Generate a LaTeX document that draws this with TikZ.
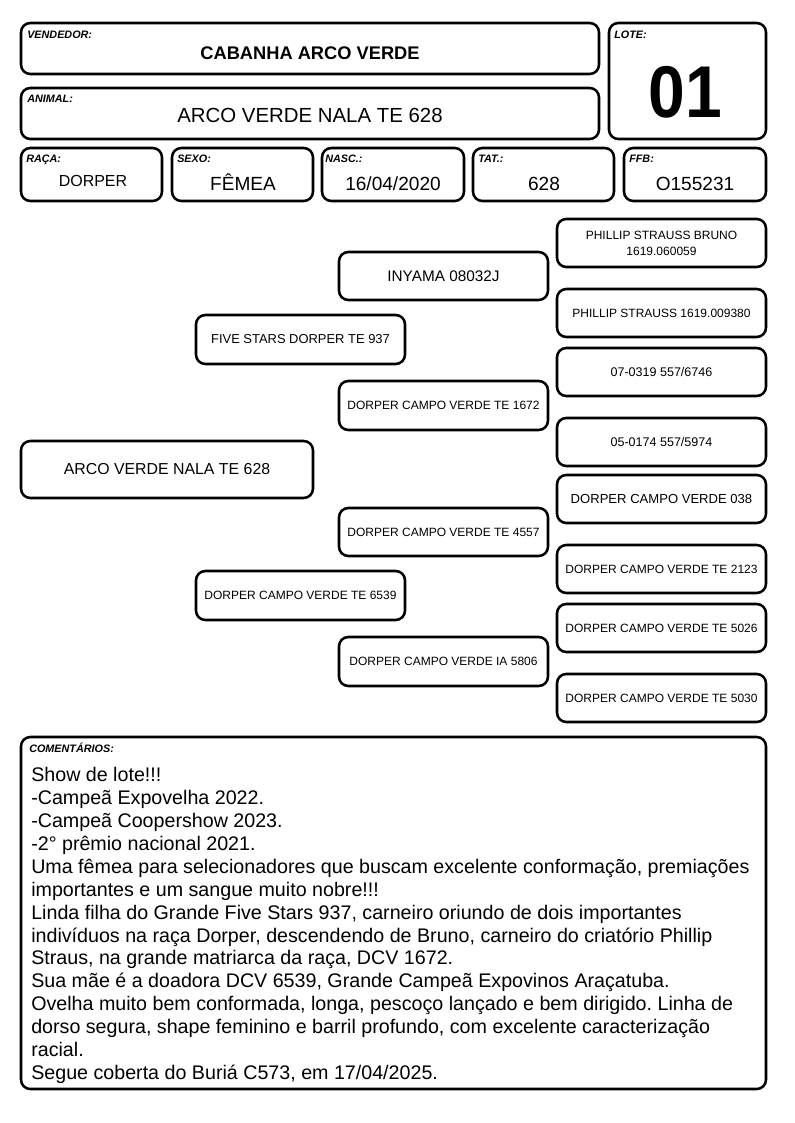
\documentclass[tikz,border=0pt]{standalone}
\usepackage{fontspec}
\setmainfont{Liberation Sans}
\frenchspacing
\newcommand\mybox[7][]{\node[box,#1,minimum width={(#5-#3)*0.75pt},minimum height={(#6-#4)*0.75pt}] (#2) at ({(#3+#5)/2},{(#4+#6)/2}) {#7};}
\begin{document}
\begin{tikzpicture}[x=0.75pt,y=-0.75pt,
 box/.style={draw, line width=1.9pt, rounded corners=7pt, inner sep=0pt, align=center},
 lbl/.style={anchor=base west, inner sep=0pt, font=\fontsize{8.1}{9}\selectfont\bfseries\itshape},
 val/.style={anchor=base, inner sep=0pt, font=\fontsize{14.3}{16}\selectfont},
 ped/.style={font=\fontsize{9}{12}\selectfont}]
\useasboundingbox[fill=white] (0,0) rectangle (794,1123);
% header
\mybox{vend}{21}{23}{599}{74}{}
\mybox{lote}{609}{23}{766}{139}{}
\mybox{anim}{21}{88}{599}{139}{}
\mybox{raca}{21}{148}{162}{201}{}
\mybox{sexo}{172}{148}{313}{201}{}
\mybox{nasc}{322}{148}{464}{201}{}
\mybox{tat}{473}{148}{614}{201}{}
\mybox{ffb}{624}{148}{766}{201}{}
\node[lbl] (lvend) at (27,39) {VENDEDOR:};
\node[lbl] (llote) at (614,39) {LOTE:};
\node[lbl] (lanim) at (27,103) {ANIMAL:};
\node[lbl] (lraca) at (26,163) {RAÇA:};
\node[lbl] (lsexo) at (177,163) {SEXO:};
\node[lbl] (lnasc) at (325,163) {NASC.:};
\node[lbl] (ltat) at (478,163) {TAT.:};
\node[lbl] (lffb) at (629,163) {FFB:};
\node[val, font=\fontsize{13.7}{16}\selectfont\bfseries] (tvend) at (310,60) {CABANHA ARCO VERDE};
\node[val, font=\fontsize{15.3}{18}\selectfont] (tanim) at (310,123) {ARCO VERDE NALA TE 628};
\node[val, font=\fontsize{55}{57}\selectfont\bfseries, xscale=0.9] (tlote) at (685,118) {01};
\node[val, font=\fontsize{12}{14}\selectfont] (traca) at (93,187) {DORPER};
\node[val] (tsexo) at (243,191) {FÊMEA};
\node[val] (tnasc) at (393,191) {16/04/2020};
\node[val] (ttat) at (544,191) {628};
\node[val] (tffb) at (695,191) {O155231};
% pedigree
\mybox[font=\fontsize{11.9}{14}\selectfont]{p0}{21}{441}{313}{498}{ARCO VERDE NALA TE 628}
\mybox[ped, font=\fontsize{9.7}{12}\selectfont]{p1}{196}{315}{405}{364}{FIVE STARS DORPER TE 937}
\mybox[ped]{p2}{196}{571}{405}{620}{DORPER CAMPO VERDE TE 6539}
\mybox[ped, font=\fontsize{11.5}{14}\selectfont]{p11}{339}{252}{548}{300}{INYAMA 08032J}
\mybox[ped]{p12}{339}{381}{548}{430}{DORPER CAMPO VERDE TE 1672}
\mybox[ped]{p21}{339}{508}{548}{556}{DORPER CAMPO VERDE TE 4557}
\mybox[ped]{p22}{339}{637}{548}{686}{DORPER CAMPO VERDE IA 5806}
\mybox[ped]{p111}{557}{219}{766}{267}{PHILLIP STRAUSS BRUNO\\1619.060059}
\mybox[ped]{p112}{557}{289}{766}{337}{PHILLIP STRAUSS 1619.009380}
\mybox[ped, font=\fontsize{9.4}{12}\selectfont]{p121}{557}{348}{766}{396}{07-0319 557/6746}
\mybox[ped, font=\fontsize{9.4}{12}\selectfont]{p122}{557}{418}{766}{466}{05-0174 557/5974}
\mybox[ped, font=\fontsize{9.8}{12}\selectfont]{p211}{557}{475}{766}{523}{DORPER CAMPO VERDE 038}
\mybox[ped]{p212}{557}{545}{766}{593}{DORPER CAMPO VERDE TE 2123}
\mybox[ped]{p221}{557}{604}{766}{652}{DORPER CAMPO VERDE TE 5026}
\mybox[ped]{p222}{557}{674}{766}{722}{DORPER CAMPO VERDE TE 5030}
% comments
\mybox{com}{21}{737}{766}{1089}{}
\node[lbl] (lcom) at (29,752) {COMENTÁRIOS:};
\node[anchor=north west, inner sep=0pt, align=left, font=\fontsize{14.75}{17.2}\selectfont] (tcom) at (31,767) {Show de lote!!!\\
-Campeã Expovelha 2022.\\
-Campeã Coopershow 2023.\\
-2° prêmio nacional 2021.\\
Uma fêmea para selecionadores que buscam excelente conformação, premiações\\
importantes e um sangue muito nobre!!!\\
Linda filha do Grande Five Stars 937, carneiro oriundo de dois importantes\\
indivíduos na raça Dorper, descendendo de Bruno, carneiro do criatório Phillip\\
Straus, na grande matriarca da raça, DCV 1672.\\
Sua mãe é a doadora DCV 6539, Grande Campeã Expovinos Araçatuba.\\
Ovelha muito bem conformada, longa, pescoço lançado e bem dirigido. Linha de\\
dorso segura, shape feminino e barril profundo, com excelente caracterização\\
racial.\\
Segue coberta do Buriá C573, em 17/04/2025.};
\end{tikzpicture}
\end{document}
